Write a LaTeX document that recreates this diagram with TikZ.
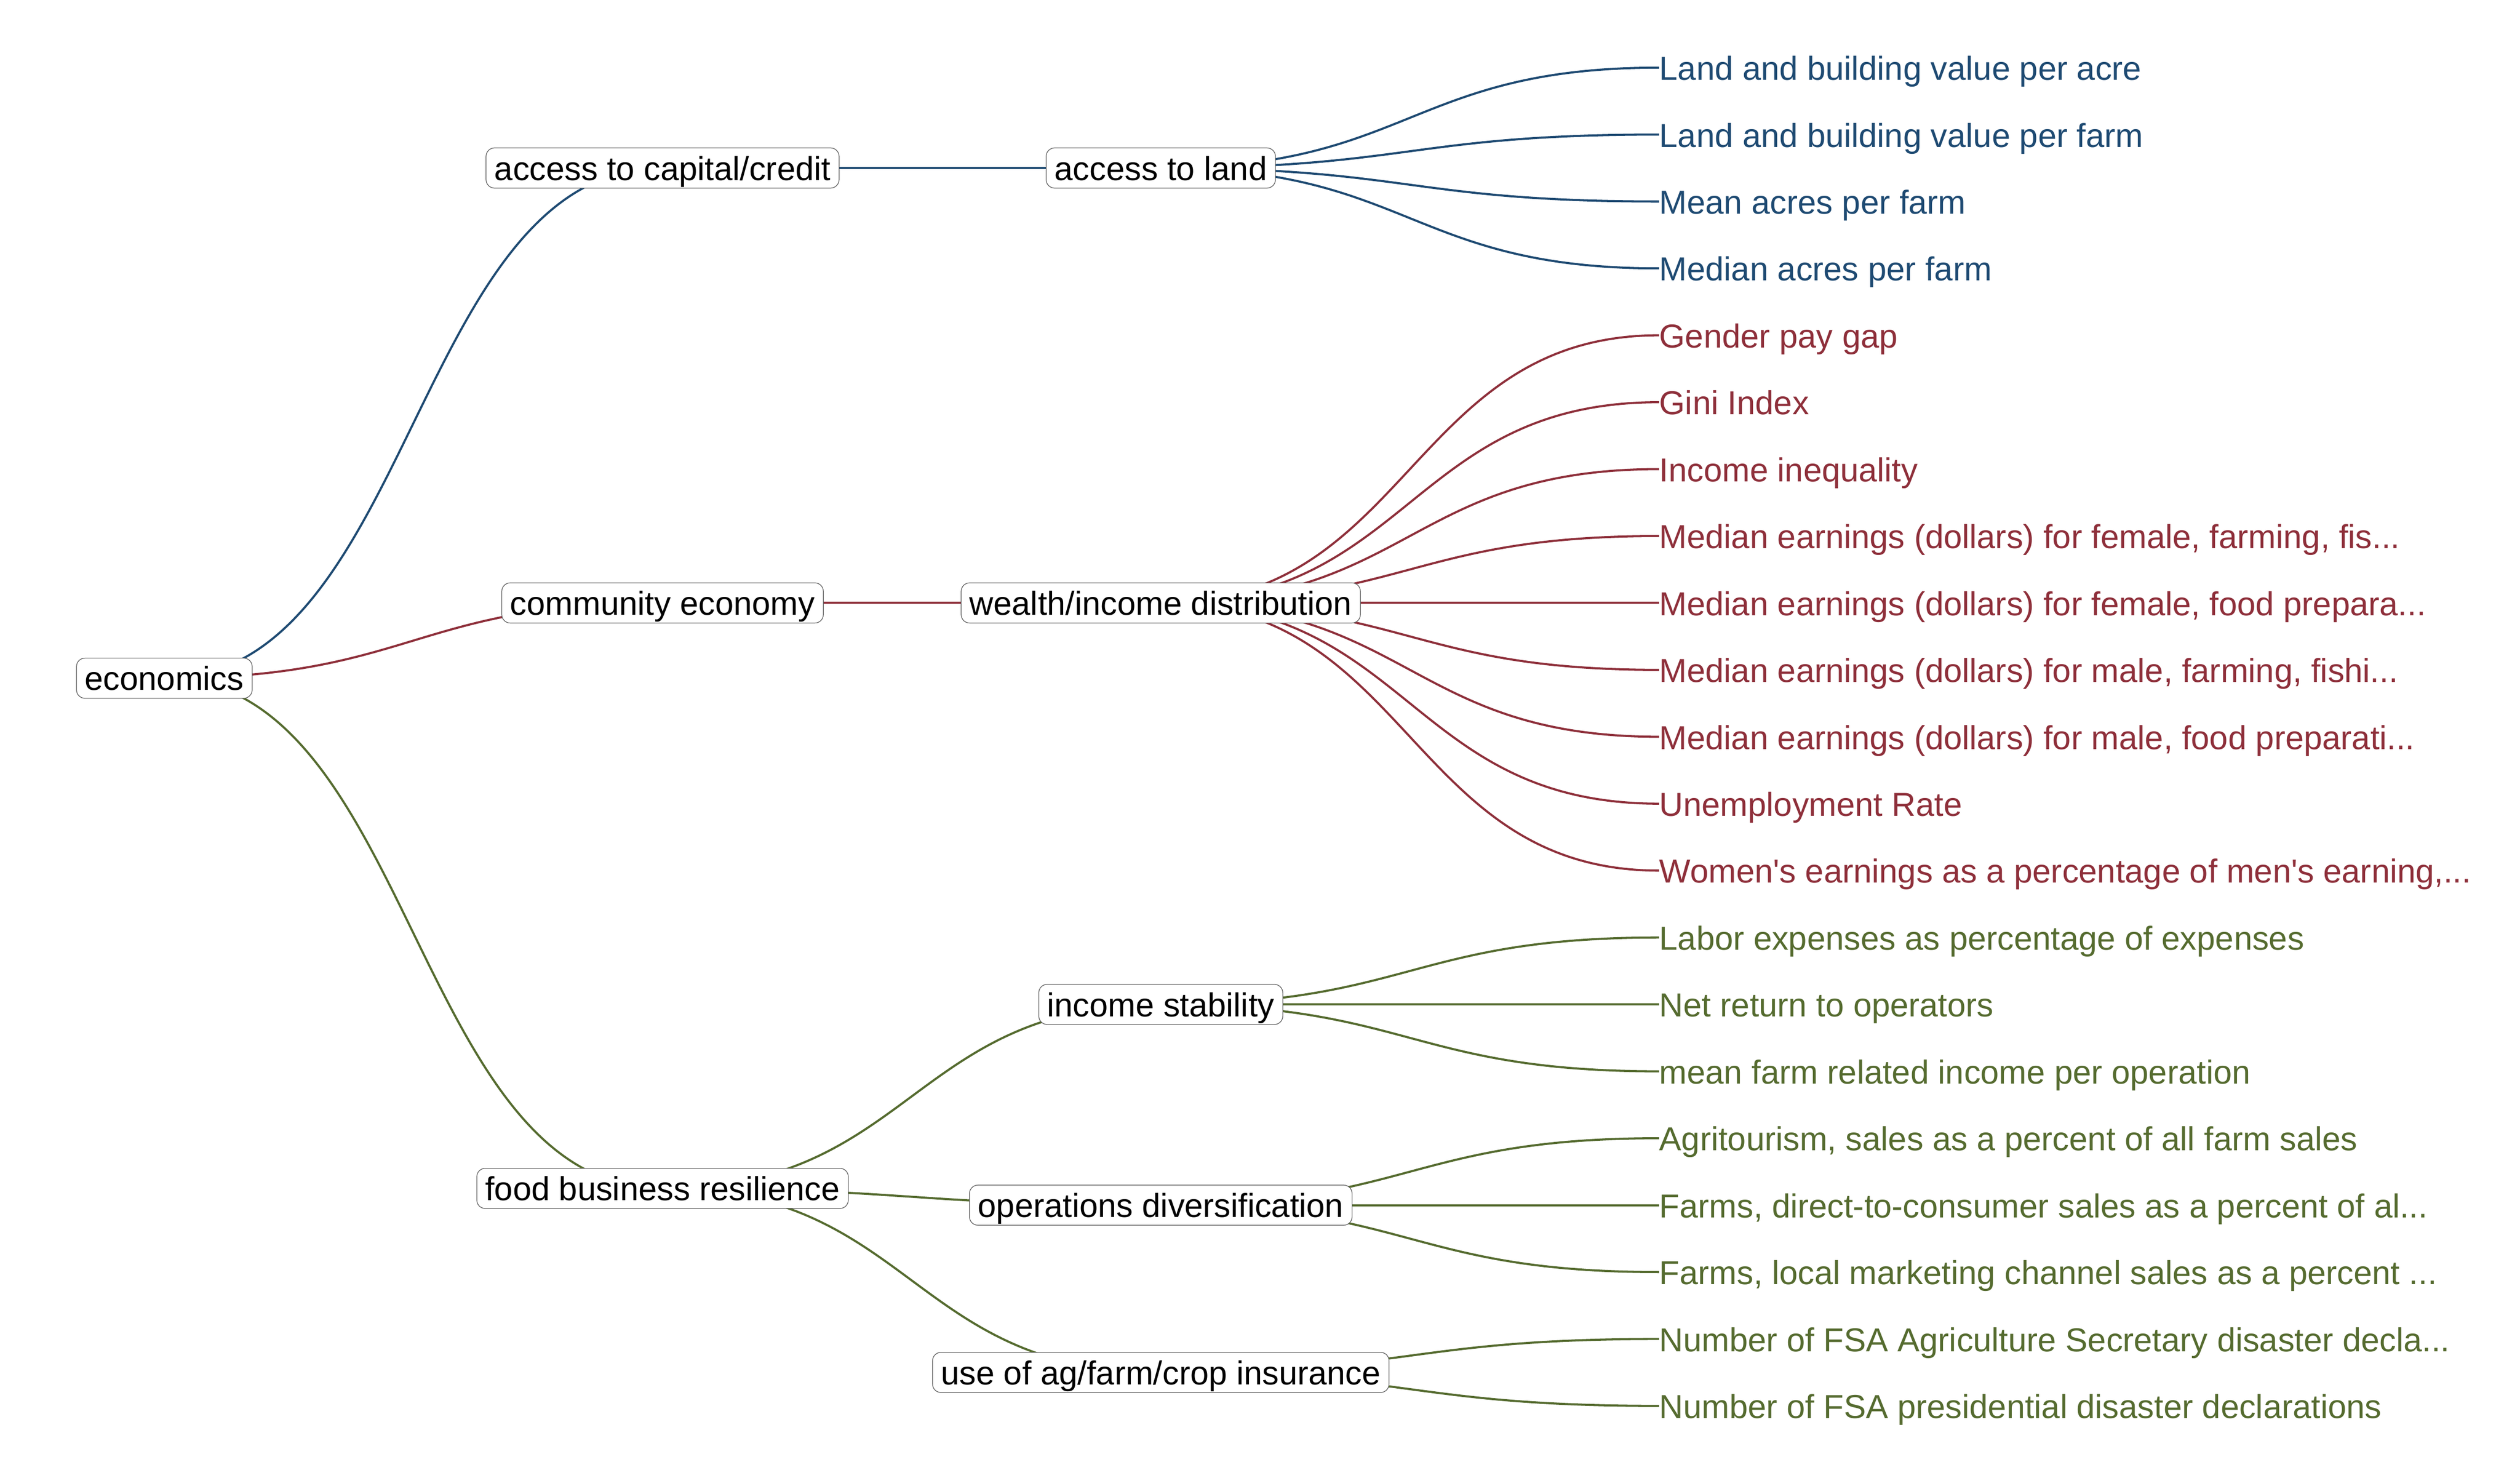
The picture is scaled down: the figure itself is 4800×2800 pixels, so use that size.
\documentclass[tikz,border=0pt]{standalone}
\usepackage{fontspec}
\setmainfont{Liberation Sans}[Ligatures=TeXOff]
\usetikzlibrary{calc,backgrounds}
\definecolor{cblue}{HTML}{1E4A72}
\definecolor{cred}{HTML}{8E2F3A}
\definecolor{cgreen}{HTML}{556B2F}
\newcommand\diagedge[3]{\draw[edge,#1] let \p1=(#2), \p2=(#3) in (\p1) .. controls ({0.5*\x1+0.5*\x2},\y1) and ({0.5*\x1+0.5*\x2},\y2) .. (\p2);}
\tikzset{
  lbl/.style={font=\fontsize{18pt}{21pt}\selectfont},
  inode/.style={lbl, draw=black!65, line width=0.35pt, fill=white, rounded corners=0.16cm,
    text height=0.588cm, text depth=0.126cm, inner xsep=0.16cm, inner ysep=0.025cm, text=black},
  leaf/.style={lbl, anchor=west, inner sep=0pt, text height=0.474cm, text depth=0pt},
  edge/.style={line width=1.15pt}
}
\begin{document}
\begin{tikzpicture}[x=0.01cm, y=-0.01cm]
\useasboundingbox (0,0) rectangle (4800,2800);
\begin{scope}[shift={(0,3)}]
% internal nodes
\node[inode] (eco) at (313,1288.8) {economics};
\node[inode] (cap) at (1262,317) {access to capital/credit};
\node[inode] (land) at (2211,317) {access to land};
\node[inode] (comm) at (1262,1145.45) {community economy};
\node[inode] (wealth) at (2211,1145.45) {wealth/income distribution};
\node[inode] (food) at (1262,2260.6) {food business resilience};
\node[inode] (inc) at (2211,1910.15) {income stability};
\node[inode] (ops) at (2211,2292.5) {operations diversification};
\node[inode] (ins) at (2211,2611.1) {use of ag/farm/crop insurance};
% leaves
\node[leaf, text=cblue] (l0) at (3160,125.85) {Land and building value per acre};
\node[leaf, text=cblue] (l1) at (3160,253.3) {Land and building value per farm};
\node[leaf, text=cblue] (l2) at (3160,380.75) {Mean acres per farm};
\node[leaf, text=cblue] (l3) at (3160,508.2) {Median acres per farm};
\node[leaf, text=cred] (l4) at (3160,635.65) {Gender pay gap};
\node[leaf, text=cred] (l5) at (3160,763.1) {Gini Index};
\node[leaf, text=cred] (l6) at (3160,890.55) {Income inequality};
\node[leaf, text=cred] (l7) at (3160,1018.0) {Median earnings (dollars) for female, farming, fis...};
\node[leaf, text=cred] (l8) at (3160,1145.45) {Median earnings (dollars) for female, food prepara...};
\node[leaf, text=cred] (l9) at (3160,1272.9) {Median earnings (dollars) for male, farming, fishi...};
\node[leaf, text=cred] (l10) at (3160,1400.35) {Median earnings (dollars) for male, food preparati...};
\node[leaf, text=cred] (l11) at (3160,1527.8) {Unemployment Rate};
\node[leaf, text=cred] (l12) at (3160,1655.25) {Women's earnings as a percentage of men's earning,...};
\node[leaf, text=cgreen] (l13) at (3160,1782.7) {Labor expenses as percentage of expenses};
\node[leaf, text=cgreen] (l14) at (3160,1910.15) {Net return to operators};
\node[leaf, text=cgreen] (l15) at (3160,2037.6) {mean farm related income per operation};
\node[leaf, text=cgreen] (l16) at (3160,2165.05) {Agritourism, sales as a percent of all farm sales};
\node[leaf, text=cgreen] (l17) at (3160,2292.5) {Farms, direct-to-consumer sales as a percent of al...};
\node[leaf, text=cgreen] (l18) at (3160,2419.95) {Farms, local marketing channel sales as a percent ...};
\node[leaf, text=cgreen] (l19) at (3160,2547.4) {Number of FSA Agriculture Secretary disaster decla...};
\node[leaf, text=cgreen] (l20) at (3160,2674.85) {Number of FSA presidential disaster declarations};
% edges
\begin{scope}[on background layer]
\diagedge{cblue}{eco.center}{cap.center}
\diagedge{cred}{eco.center}{comm.center}
\diagedge{cgreen}{eco.center}{food.center}
\diagedge{cblue}{cap.center}{land.center}
\diagedge{cred}{comm.center}{wealth.center}
\diagedge{cgreen}{food.center}{inc.center}
\diagedge{cgreen}{food.center}{ops.center}
\diagedge{cgreen}{food.center}{ins.center}
\foreach \i in {0,...,3}{\diagedge{cblue}{land.center}{l\i.west}}
\foreach \i in {4,...,12}{\diagedge{cred}{wealth.center}{l\i.west}}
\foreach \i in {13,14,15}{\diagedge{cgreen}{inc.center}{l\i.west}}
\foreach \i in {16,17,18}{\diagedge{cgreen}{ops.center}{l\i.west}}
\foreach \i in {19,20}{\diagedge{cgreen}{ins.center}{l\i.west}}
\end{scope}
\end{scope}
\end{tikzpicture}
\end{document}
